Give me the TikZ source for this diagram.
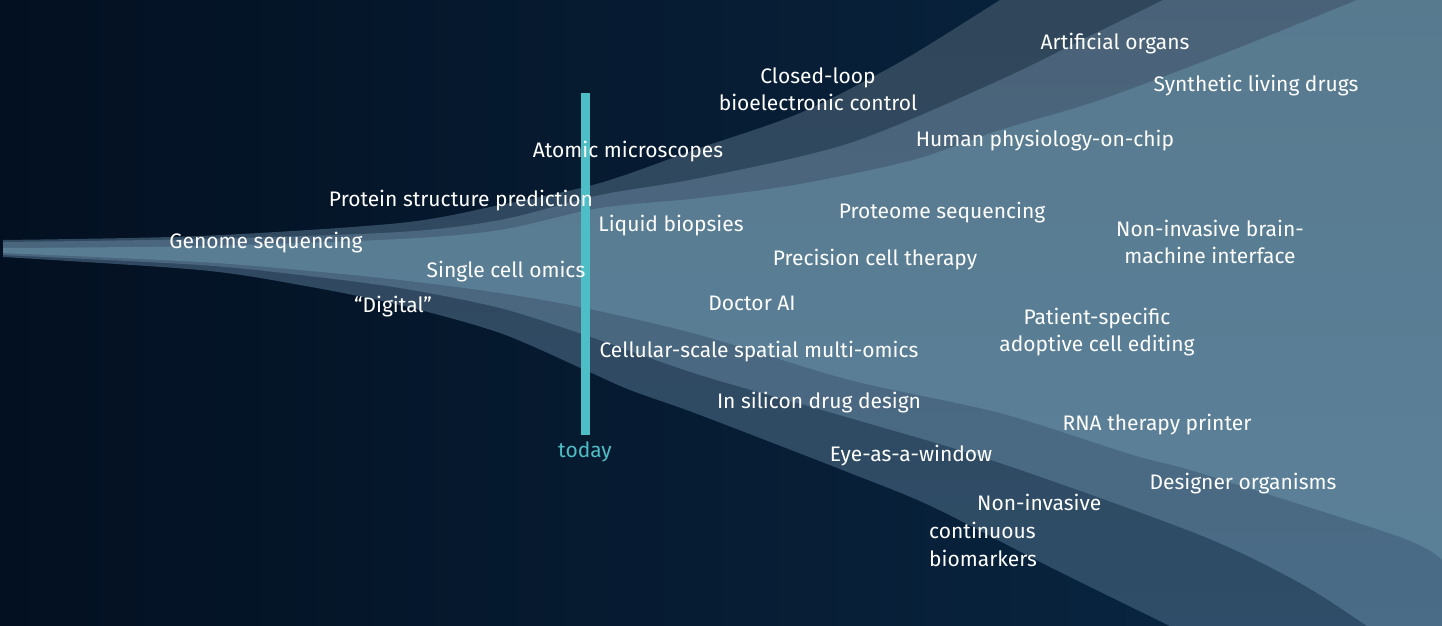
\documentclass[tikz,border=0pt]{standalone}
\usepackage{fontspec}
\setmainfont{Fira Sans}
\definecolor{bgL}{HTML}{031021}
\definecolor{bgR}{HTML}{0A2946}
\definecolor{lOneT}{HTML}{30465A}
\definecolor{lOneB}{HTML}{2F4D68}
\definecolor{lTwoT}{HTML}{4A6278}
\definecolor{lTwoB}{HTML}{4A6C87}
\definecolor{lThrT}{HTML}{587A8F}
\definecolor{lThrB}{HTML}{5A8098}
\definecolor{tealbar}{HTML}{4DBEC5}
\begin{document}
\begin{tikzpicture}[x=1pt,y=-1pt,
  txt/.style={text=white, font=\fontsize{21}{26.5}\selectfont, inner sep=0pt, anchor=base},
  mtxt/.style={text=white, font=\fontsize{21}{27}\selectfont, inner sep=0pt, align=center, anchor=north}]
\useasboundingbox (0,0) rectangle (1442,626);
\shade[left color=bgL, right color=bgR] (0,0) rectangle (1442,626);
\begin{scope}
\clip (0,0) rectangle (1442,626);
% layer 1
\shade[top color=lOneT, bottom color=lOneB]
  plot[smooth, tension=0.5] coordinates {(3,240) (200,236) (400,223) (500,205) (600,183) (700,148) (800,113) (900,62) (1000,0) (1020,-12)}
  -- (1442,-12) -- (1442,640) -- (1180,640)
  -- plot[smooth, tension=0.5] coordinates {(1170,626) (1050,567) (933,507) (850,473) (700,415) (630,390) (585,370) (500,333) (400,305) (300,285) (200,270) (3,257)} -- cycle;
% layer 2
\shade[top color=lTwoT, bottom color=lTwoB]
  plot[smooth, tension=0.5] coordinates {(3,242) (200,239) (400,232) (500,220) (600,195) (700,178) (850,143) (1000,80) (1100,31) (1163,0) (1190,-14)}
  -- (1442,-14) -- (1442,640) -- (1375,640)
  -- plot[smooth, tension=0.5] coordinates {(1367,626) (1300,583) (1200,535) (1000,463) (850,418) (700,375) (585,335) (500,308) (400,288) (300,275) (200,265) (3,255)} -- cycle;
% layer 3
\shade[top color=lThrT, bottom color=lThrB]
  plot[smooth, tension=0.5] coordinates {(3,248) (200,246) (400,239) (500,230) (600,208) (700,198) (800,184) (913,160) (1000,130) (1100,100) (1233,50) (1357,0) (1390,-14)}
  -- (1442,-14) -- (1442,560)
  -- plot[smooth, tension=0.5] coordinates {(1442,560) (1400,537) (1200,473) (1133,455) (1000,413) (850,380) (700,335) (585,308) (500,293) (400,280) (300,270) (200,262) (3,253)} -- cycle;
\end{scope}
% today bar
\fill[tealbar] (580.5,93) rectangle (589.5,435);
\node[txt, text=tealbar] (today) at (585,457) {today};
% labels
\node[txt] (artorg) at (1115,50) {Artificial organs};
\node[mtxt] (closed) at (818,68) {Closed-loop\\bioelectronic control};
\node[txt] (synth) at (1256,92) {Synthetic living drugs};
\node[txt] (human) at (1045,146) {Human physiology-on-chip};
\node[txt] (atomic) at (628,157) {Atomic microscopes};
\node[txt] (protein) at (461,206) {Protein structure prediction};
\node[txt] (liquid) at (671,231) {Liquid biopsies};
\node[txt] (proteome) at (942,218) {Proteome sequencing};
\node[mtxt] (bmi) at (1210,220) {Non-invasive brain-\\machine interface};
\node[txt] (genome) at (266,248) {Genome sequencing};
\node[txt] (single) at (506,277) {Single cell omics};
\node[txt] (precision) at (875,265) {Precision cell therapy};
\node[txt] (digital) at (393,312) {“Digital”};
\node[txt] (doctor) at (752,310) {Doctor AI};
\node[mtxt] (patient) at (1097,308) {Patient-specific\\adoptive cell editing};
\node[txt] (cellular) at (759,357) {Cellular-scale spatial multi-omics};
\node[txt] (silicon) at (819,408) {In silicon drug design};
\node[txt] (rna) at (1157,430) {RNA therapy printer};
\node[txt] (eye) at (911,461) {Eye-as-a-window};
\node[txt] (designer) at (1243,489) {Designer organisms};
\node[mtxt, align=left, anchor=north west, font=\fontsize{21}{28}\selectfont] (noninv) at (929,494) {\hspace*{48pt}Non-invasive\\continuous\\biomarkers};
\end{tikzpicture}
\end{document}
